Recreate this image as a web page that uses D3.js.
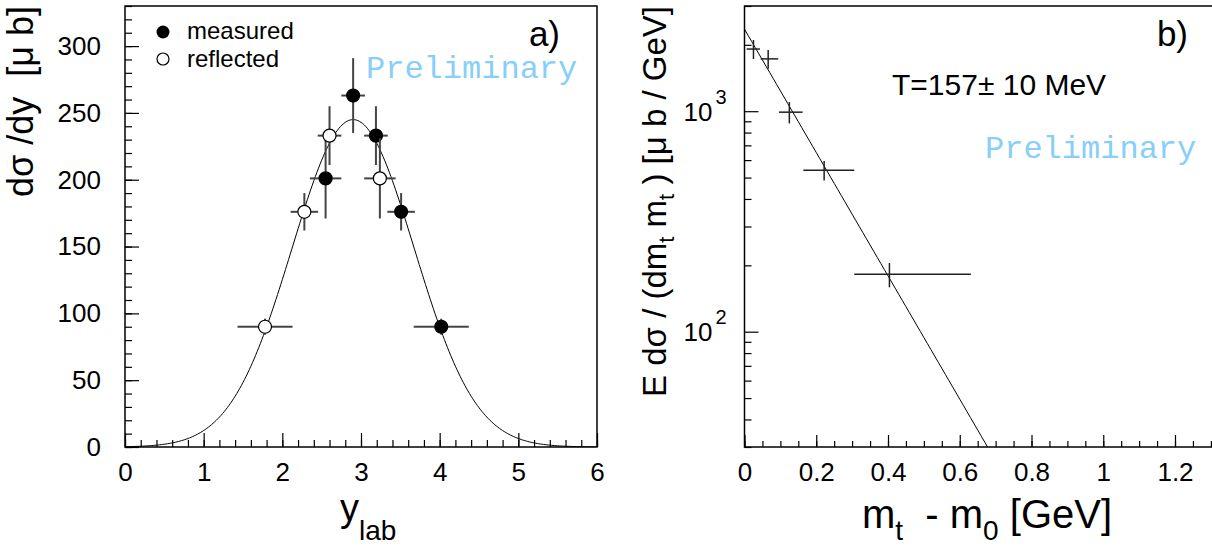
<!DOCTYPE html>
<html><head><meta charset="utf-8">
<script src="https://cdn.jsdelivr.net/npm/d3@7"></script>
<style>
body{margin:0;background:#fff}
svg{display:block}
text{font-family:"Liberation Sans",Arial,sans-serif;fill:#000;white-space:pre}
text.mono{font-family:"Liberation Mono","Courier New",monospace}
</style>
</head><body>
<svg id="chart" width="1212" height="549"></svg>
<script>
// ---------- data: panel a (rapidity distribution) ----------
const measuredRap = [2.55, 2.90, 3.19, 3.51, 4.02];
const measuredVal = [201, 263, 233, 176, 90];
const measuredErrY = [30, 28, 22, 14, 6];
const measuredErrX = [0.20, 0.15, 0.15, 0.175, 0.35];
const reflectedRap = [1.78, 2.28, 2.60, 3.24];
const reflectedVal = [90, 176, 233, 201];
const reflectedErrY = [6, 14, 22, 30];
const reflectedErrX = [0.35, 0.175, 0.15, 0.20];
// Gaussian fit parameters
const gaussAmp = 245, gaussMean = 2.9, gaussSigma = 0.777;
const rapTicks = [0, 1, 2, 3, 4, 5, 6];
const dsTicks = [0, 50, 100, 150, 200, 250, 300];

// ---------- data: panel b (transverse mass spectrum) ----------
const mtVal = [0.025, 0.066, 0.125, 0.222, 0.404];
const mtLo = [0.006, 0.045, 0.096, 0.164, 0.306];
const mtHi = [0.043, 0.094, 0.162, 0.306, 0.631];
const specVal = [1914, 1727, 990, 540, 182];
const specErr = [190, 170, 110, 55, 23];
// exponential fit parameters (amplitude, inverse slope in GeV)
const expAmp = 2355, expT = 0.1553;
const mtTicks = [0, 0.2, 0.4, 0.6, 0.8, 1, 1.2];
const mtTickLabels = ["0", "0.2", "0.4", "0.6", "0.8", "1", "1.2"];
const logMajor = [100, 1000];
const logMajorExp = ["2", "3"];

const svg = d3.select("#chart");
const BLACK = "#000";
const BAR = "#444";
const PRELIM = "#87cefa";
const TICKFONT = 26;

// ================= Panel a =================
const A = {l:125, r:597, t:6, b:447};
const xa = d3.scaleLinear().domain([0, 6]).range([A.l, A.r]);
const ya = d3.scaleLinear().domain([0, 330]).range([A.b, A.t]);

const ga = svg.append("g");
ga.append("g").attr("transform", `translate(0,${A.b})`)
  .call(d3.axisBottom(xa).tickValues(d3.range(0, 6.001, 0.2)).tickSize(-7).tickFormat(""))
  .call(g => g.select(".domain").remove());
ga.append("g").attr("transform", `translate(${A.l},0)`)
  .call(d3.axisLeft(ya).tickValues(d3.range(0, 331, 10)).tickSize(-7).tickFormat(""))
  .call(g => g.select(".domain").remove());
ga.append("g").attr("transform", `translate(0,${A.b})`)
  .call(d3.axisBottom(xa).tickValues(rapTicks).tickSize(-14).tickPadding(16).tickFormat(d3.format("d")))
  .call(g => g.select(".domain").remove())
  .call(g => g.selectAll("text").style("font-size", TICKFONT + "px").style("font-family", "Liberation Sans, Arial, sans-serif"));
ga.append("g").attr("transform", `translate(${A.l},0)`)
  .call(d3.axisLeft(ya).tickValues(dsTicks).tickSize(-14).tickPadding(24).tickFormat(d3.format("d")))
  .call(g => g.select(".domain").remove())
  .call(g => g.selectAll("text").style("font-size", TICKFONT + "px").style("font-family", "Liberation Sans, Arial, sans-serif"));
ga.selectAll(".tick line").attr("stroke", BLACK).attr("stroke-width", 1.2);

ga.append("rect").attr("x", A.l).attr("y", A.t).attr("width", A.r - A.l).attr("height", A.b - A.t)
  .attr("fill", "none").attr("stroke", BLACK).attr("stroke-width", 1.5);

svg.append("clipPath").attr("id", "clipA").append("rect")
  .attr("x", A.l).attr("y", A.t).attr("width", A.r - A.l).attr("height", A.b - A.t);
const fitX = d3.range(0, 6.0001, 0.02);
ga.append("path")
  .datum(fitX)
  .attr("clip-path", "url(#clipA)")
  .attr("fill", "none").attr("stroke", BLACK).attr("stroke-width", 1)
  .attr("d", d3.line().x(d => xa(d)).y(d => ya(gaussAmp * Math.exp(-((d - gaussMean) ** 2) / (2 * gaussSigma ** 2)))));

const R = 6.5;
function drawPoints(xs, vs, ex, ey, filled) {
  const pts = xs.map((x, i) => ({x, v: vs[i], ex: ex[i], ey: ey[i]}));
  const g = ga.append("g");
  pts.forEach(p => {
    const cx = xa(p.x), cy = ya(p.v);
    const segs = [
      [xa(p.x - p.ex), cy, cx - R, cy],
      [cx + R, cy, xa(p.x + p.ex), cy],
      [cx, ya(p.v + p.ey), cx, cy - R],
      [cx, cy + R, cx, ya(p.v - p.ey)]
    ];
    segs.forEach(s => g.append("line").attr("x1", s[0]).attr("y1", s[1]).attr("x2", s[2]).attr("y2", s[3])
      .attr("stroke", BAR).attr("stroke-width", 2));
  });
  g.selectAll("circle").data(pts).join("circle")
    .attr("cx", d => xa(d.x)).attr("cy", d => ya(d.v)).attr("r", R)
    .attr("fill", filled ? BLACK : "#fff").attr("stroke", BLACK).attr("stroke-width", 1.2);
}
drawPoints(measuredRap, measuredVal, measuredErrX, measuredErrY, true);
drawPoints(reflectedRap, reflectedVal, reflectedErrX, reflectedErrY, false);

// legend
ga.append("circle").attr("cx", 163).attr("cy", 32).attr("r", 6.5).attr("fill", BLACK);
ga.append("circle").attr("cx", 163).attr("cy", 59).attr("r", 6).attr("fill", "#fff").attr("stroke", BLACK).attr("stroke-width", 1.2);
ga.append("text").attr("x", 187).attr("y", 39).style("font-size", "24px").text("measured");
ga.append("text").attr("x", 187).attr("y", 67).style("font-size", "24px").text("reflected");

ga.append("text").attr("x", 560).attr("y", 46).style("font-size", "35px").attr("text-anchor", "end").text("a)");
ga.append("text").attr("class", "mono").attr("x", 366).attr("y", 78).style("font-size", "32px")
  .style("fill", PRELIM).text("Preliminary");

const xtA = ga.append("text").attr("x", 340).attr("y", 521).style("font-size", "38px");
xtA.append("tspan").text("y");
xtA.append("tspan").attr("dy", 19).style("font-size", "28px").text("lab");

ga.append("text").attr("transform", "translate(33,6) rotate(-90)").attr("text-anchor", "end")
  .style("font-size", "36px").text("d\u03c3 /dy  [\u03bc b]");

// ================= Panel b =================
const B = {l:744.5, r:1214, t:6, b:447};
const xb = d3.scaleLinear().domain([0, 1.3087]).range([B.l, B.r]);
const yb = d3.scaleLog().domain([30, 3000]).range([B.b, B.t]);
const gb = svg.append("g");

const logMinor = [];
[10, 100, 1000].forEach(dec => { for (let k = 2; k <= 9; k++) { const v = k * dec; if (v >= 30 && v <= 3000) logMinor.push(v); } });

gb.append("g").attr("transform", `translate(0,${B.b})`)
  .call(d3.axisBottom(xb).tickValues(d3.range(0, 1.3001, 0.05)).tickSize(-6).tickFormat(""))
  .call(g => g.select(".domain").remove());
gb.append("g").attr("transform", `translate(0,${B.b})`)
  .call(d3.axisBottom(xb).tickValues(mtTicks).tickSize(-12).tickPadding(16).tickFormat((d, i) => mtTickLabels[i]))
  .call(g => g.select(".domain").remove())
  .call(g => g.selectAll("text").style("font-size", TICKFONT + "px").style("font-family", "Liberation Sans, Arial, sans-serif"));
gb.append("g").attr("transform", `translate(${B.l},0)`)
  .call(d3.axisLeft(yb).tickValues(logMinor).tickSize(-7).tickFormat(""))
  .call(g => g.select(".domain").remove());
const yAxB = gb.append("g").attr("transform", `translate(${B.l},0)`)
  .call(d3.axisLeft(yb).tickValues(logMajor).tickSize(-14).tickFormat(""))
  .call(g => g.select(".domain").remove());
yAxB.selectAll(".tick").each(function(d, i) {
  const t = d3.select(this).append("text").attr("x", -18).attr("y", 9).attr("text-anchor", "end")
    .style("font-size", TICKFONT + "px").style("fill", BLACK);
  t.append("tspan").text("10");
  t.append("tspan").attr("dx", 3).attr("dy", -17).style("font-size", "20px").text(logMajorExp[i]);
});
gb.selectAll(".tick line").attr("stroke", BLACK).attr("stroke-width", 1.2);

gb.append("rect").attr("x", B.l).attr("y", B.t).attr("width", B.r - B.l).attr("height", B.b - B.t)
  .attr("fill", "none").attr("stroke", BLACK).attr("stroke-width", 1.5);

svg.append("clipPath").attr("id", "clipB").append("rect")
  .attr("x", B.l).attr("y", B.t).attr("width", B.r - B.l).attr("height", B.b - B.t);
const expX = d3.range(0, 1.3001, 0.01);
gb.append("path").datum(expX).attr("clip-path", "url(#clipB)")
  .attr("fill", "none").attr("stroke", BLACK).attr("stroke-width", 1)
  .attr("d", d3.line().x(d => xb(d)).y(d => yb(Math.max(1, expAmp * Math.exp(-d / expT)))));

const specPts = mtVal.map((x, i) => ({x, lo: mtLo[i], hi: mtHi[i], v: specVal[i], e: specErr[i]}));
const gp = gb.append("g").attr("stroke", "#222").attr("stroke-width", 1.5);
gp.selectAll("line.h").data(specPts).join("line").attr("class", "h")
  .attr("x1", d => xb(d.lo)).attr("x2", d => xb(d.hi)).attr("y1", d => yb(d.v)).attr("y2", d => yb(d.v));
gp.selectAll("line.v").data(specPts).join("line").attr("class", "v")
  .attr("x1", d => xb(d.x)).attr("x2", d => xb(d.x)).attr("y1", d => yb(d.v + d.e)).attr("y2", d => yb(d.v - d.e));

gb.append("text").attr("x", 1188).attr("y", 46).style("font-size", "35px").attr("text-anchor", "end").text("b)");
gb.append("text").attr("x", 892).attr("y", 95).style("font-size", "30px").text("T=157\u00b1 10 MeV");
gb.append("text").attr("class", "mono").attr("x", 985).attr("y", 158).style("font-size", "32px")
  .style("fill", PRELIM).text("Preliminary");

const xtB = gb.append("text").attr("x", 862).attr("y", 528).style("font-size", "40px");
xtB.append("tspan").text("m");
xtB.append("tspan").attr("dy", 12).style("font-size", "28px").text("t");
xtB.append("tspan").attr("dy", -12).text("  - m");
xtB.append("tspan").attr("dy", 12).style("font-size", "28px").text("0");
xtB.append("tspan").attr("dy", -12).text(" [GeV]");

const ytB = gb.append("text").attr("transform", "translate(666,6) rotate(-90)").attr("text-anchor", "end").style("font-size", "33px");
ytB.append("tspan").text("E d\u03c3 / (dm");
ytB.append("tspan").attr("dy", 8).style("font-size", "22px").text("t");
ytB.append("tspan").attr("dy", -8).text(" m");
ytB.append("tspan").attr("dy", 8).style("font-size", "22px").text("t");
ytB.append("tspan").attr("dy", -8).text(" ) [\u03bc b / GeV]");
</script>
</body></html>
